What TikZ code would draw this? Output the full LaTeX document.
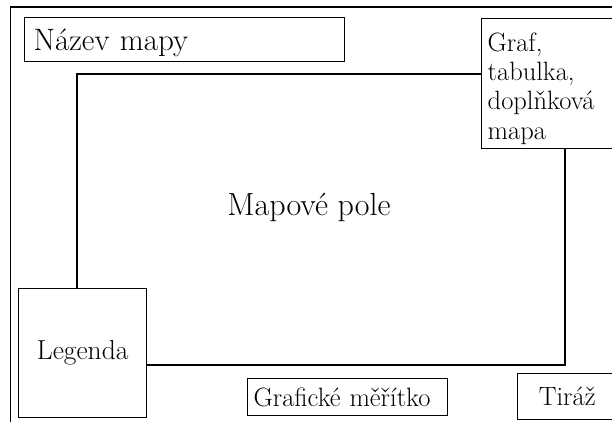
\documentclass[tikz,border=0pt]{standalone}
\usepackage{fontspec}

\begin{document}
\begin{tikzpicture}[x=1pt, y=-1pt, line width=1.4pt,
        box/.style = {draw, fill=white, inner sep=0pt},
        big/.style = {font=\fontsize{31}{36}\selectfont},
        small/.style = {font=\fontsize{26.5}{29.3}\selectfont}]

    \useasboundingbox (0,0) rectangle (612,421);
    \clip (0,0) rectangle (612,421);

    % outer frame
    \draw (10.7,440) -- (10.7,7) -- (640,7);

    \node[box, minimum width=488pt, minimum height=291pt] (pole) at (321,219.5) {};
    \node[big, font=\fontsize{32}{36}\selectfont] (poletext) at ([xshift=-12pt, yshift=12pt]pole.center) {Mapové pole};

    \node[box, big, anchor=north west, minimum width=320pt, minimum height=44pt,
          text width=302pt, inner xsep=9pt, align=left, text depth=0pt] (nazev) at (24,17) {Název mapy};

    \node[box, anchor=north west, minimum width=135pt, minimum height=130pt] (graf) at (481,18) {};
    \node[small, align=left, anchor=north west, inner sep=0pt] (graftext) at ([xshift=6pt, yshift=-14pt]graf.north west)
        {Graf,\\tabulka,\\doplňková\\mapa};

    \node[box, small, font=\fontsize{27.5}{30}\selectfont, anchor=north west, minimum width=128pt, minimum height=129pt] (legenda) at (18,288) {Legenda};

    \node[box, small, anchor=north west, minimum width=200pt, minimum height=37pt,
          text width=188pt, inner xsep=6pt, align=left, text depth=0pt] (meritko) at (247,378) {Grafické měřítko};

    \node[box, small, anchor=north west, minimum width=99pt, minimum height=46pt, text depth=0pt] (tiraz) at (517,373) {Tiráž};

\end{tikzpicture}
\end{document}
